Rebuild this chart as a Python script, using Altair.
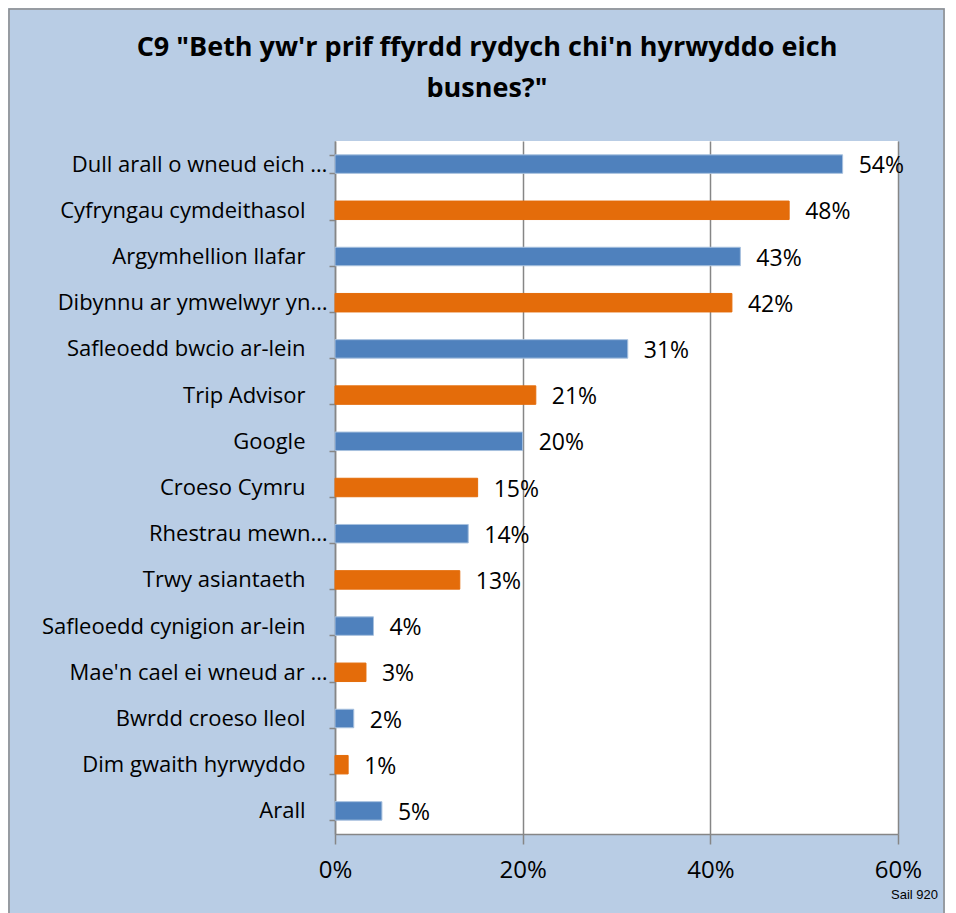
import altair as alt
import pandas as pd

categories = [
    "Dull arall o wneud eich …",
    "Cyfryngau cymdeithasol",
    "Argymhellion llafar",
    "Dibynnu ar ymwelwyr  yn…",
    "Safleoedd bwcio ar-lein",
    "Trip Advisor",
    "Google",
    "Croeso Cymru",
    "Rhestrau mewn…",
    "Trwy asiantaeth",
    "Safleoedd cynigion ar-lein",
    "Mae'n cael ei wneud ar …",
    "Bwrdd croeso lleol",
    "Dim gwaith  hyrwyddo",
    "Arall",
]
values = [54.1, 48.4, 43.2, 42.3, 31.2, 21.4, 20.0, 15.2, 14.2, 13.3, 4.1, 3.3, 2.0, 1.4, 5.0]
series = ["a", "b", "a", "b", "a", "b", "a", "b", "a", "b", "a", "b", "a", "b", "a"]
x_ticks = [0, 20, 40, 60]
title_lines = ["C9 \"Beth yw'r prif ffyrdd rydych chi'n hyrwyddo eich", "busnes?\""]
base_note = "Sail 920"

df = pd.DataFrame({"cat": categories, "val": values, "series": series})
df["lbl"] = df["val"].round(0).astype(int).astype(str) + "%"

FONT = "Open Sans"
W, H = 563, 693

y_enc = alt.Y(
    "cat:N",
    sort=categories,
    scale=alt.Scale(paddingInner=0.6, paddingOuter=0.3),
    axis=alt.Axis(
        title=None,
        labelFont=FONT,
        labelFontSize=22,
        labelColor="black",
        labelPadding=2,
        labelLimit=400,
        tickBand="extent",
        tickSize=6,
        tickColor="#868686",
        tickWidth=1.5,
        domainColor="#868686",
        domainWidth=1.5,
        labelExpr="slice(datum.label, -1) == '\u2026' ? datum.label : datum.label + '\u2003\u200b'",
    ),
)
x_enc = alt.X(
    "val:Q",
    scale=alt.Scale(domain=[0, 60], nice=False),
    axis=alt.Axis(
        title=None,
        values=x_ticks,
        labelExpr="datum.value + '%'",
        labelFont=FONT,
        labelFontSize=24,
        labelColor="black",
        labelPadding=14,
        labelFlush=False,
        tickSize=10,
        tickColor="#868686",
        tickWidth=1.5,
        domainColor="#868686",
        domainWidth=1.5,
        grid=True,
        gridColor="#868686",
        gridWidth=1.5,
    ),
)

bars = alt.Chart(df).mark_bar(strokeWidth=1).encode(
    y=y_enc,
    x=x_enc,
    color=alt.Color("series:N", scale=alt.Scale(domain=["a", "b"], range=["#4F81BD", "#E46C0A"]), legend=None),
    stroke=alt.Stroke("series:N", scale=alt.Scale(domain=["a", "b"], range=["#A7C0DE", "#E46C0A"]), legend=None),
)
labels = alt.Chart(df).mark_text(align="left", baseline="middle", dx=16, dy=2, font=FONT, fontSize=23, color="black").encode(
    y=alt.Y("cat:N", sort=categories),
    x="val:Q",
    text="lbl:N",
)
note = alt.Chart(pd.DataFrame({"t": [base_note]})).mark_text(
    align="right", baseline="middle", font="Liberation Sans", fontSize=13, color="black"
).encode(x=alt.value(W + 40), y=alt.value(H + 61), text="t:N")
title = alt.Chart(pd.DataFrame({"t": [0]})).mark_text(
    text=title_lines, align="center", baseline="middle", font=FONT, fontSize=27, fontWeight="bold",
    color="black", lineHeight=41,
).encode(x=alt.value(152), y=alt.value(-93))
border = alt.Chart(pd.DataFrame({"t": [0]})).mark_rect(fill=None, stroke="#8c8c8c", strokeWidth=1.5).encode(
    x=alt.value(-326), x2=alt.value(W + 46), y=alt.value(-132), y2=alt.value(H + 90)
)

chart = alt.layer(border, title, bars, labels, note).properties(
    width=W,
    height=H,
    padding={"left": 327, "top": 133, "right": 47, "bottom": 80},
    autosize=alt.AutoSizeParams(type="none"),
    background="#B9CDE5",
).configure_view(fill="white", stroke=None)

chart.save("out.html", embed_options={"renderer": "svg", "actions": False})
